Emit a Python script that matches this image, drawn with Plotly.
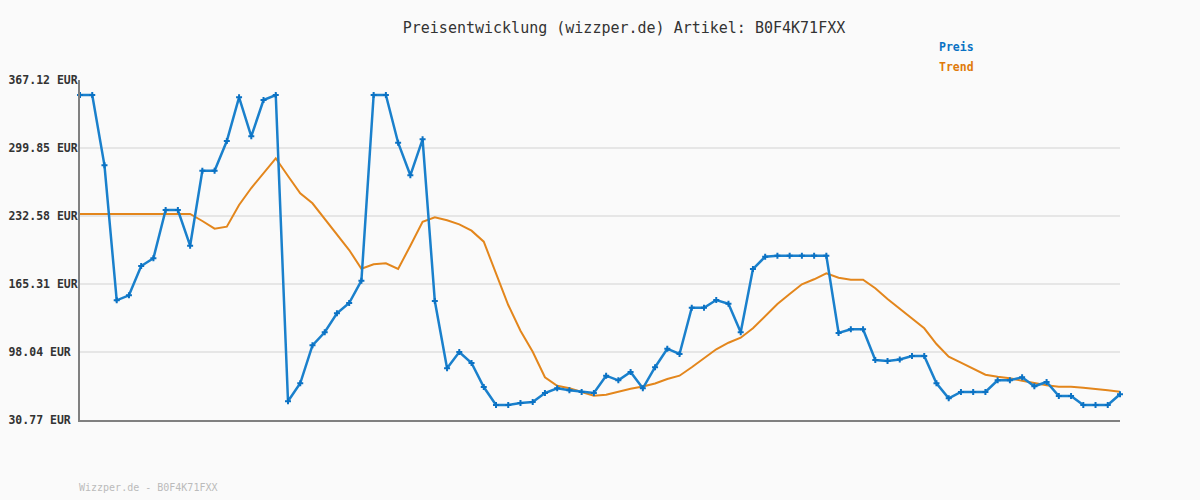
import plotly.graph_objects as go

# Price series (EUR)
preis = [352.28, 352.28, 282.73, 149.18, 154.13, 183.12, 190.73, 238.51, 238.51, 203.20,
         277.39, 277.39, 306.77, 350.01, 311.42, 347.33, 352.28, 49.27, 67.08, 104.67,
         117.53, 136.32, 146.51, 168.57, 352.28, 352.28, 305.09, 272.84, 308.46, 148.49,
         81.91, 98.04, 87.16, 63.42, 45.61, 45.61, 47.59, 48.58, 57.48, 62.13,
         60.15, 58.47, 57.48, 74.59, 70.04, 78.25, 62.13, 83.00, 101.30, 96.06,
         141.86, 141.86, 149.48, 145.82, 117.53, 180.15, 192.32, 193.31, 193.31, 193.31,
         193.31, 193.31, 116.84, 120.50, 120.50, 90.13, 89.14, 90.62, 94.08, 94.08,
         67.08, 52.24, 58.47, 58.47, 58.47, 70.04, 70.04, 73.01, 64.11, 68.36,
         54.51, 54.51, 45.61, 45.61, 45.61, 56.19]

trend = [234.56, 234.56, 234.56, 234.56, 234.56, 234.56, 234.56, 234.56, 234.56, 234.56,
         227.63, 220.02, 221.99, 243.46, 260.28, 275.12, 289.66, 272.15, 255.04, 245.14,
         229.61, 213.78, 198.94, 180.45, 184.80, 185.79, 180.15, 203.20, 226.94, 231.29,
         228.33, 224.37, 218.04, 207.16, 175.89, 144.53, 119.11, 98.34, 73.01, 64.70,
         62.13, 58.77, 54.81, 55.80, 58.77, 61.73, 63.91, 66.88, 71.33, 74.59,
         82.90, 91.81, 100.71, 107.24, 112.19, 121.49, 133.65, 145.52, 155.42, 165.01,
         169.96, 175.89, 171.54, 169.56, 169.56, 161.06, 150.47, 140.78, 131.38, 121.49,
         105.95, 93.39, 87.45, 81.52, 75.58, 73.61, 72.02, 69.65, 67.37, 65.10,
         63.71, 63.71, 62.72, 61.14, 60.15, 58.77]

y_ticks = [30.77, 98.04, 165.31, 232.58, 299.85, 367.12]
y_tick_labels = ["30.77 EUR", "98.04 EUR", "165.31 EUR", "232.58 EUR", "299.85 EUR", "367.12 EUR"]

title_text = "Preisentwicklung (wizzper.de) Artikel: B0F4K71FXX"
footer_text = "Wizzper.de - B0F4K71FXX"
series_names = ["Preis", "Trend"]

BLUE = "#1a80cc"
ORANGE = "#e3861c"
MONO = "DejaVu Sans Mono"

x = list(range(len(preis)))
maxlen = max(len(t) for t in y_tick_labels)
padded = [t + "\u00a0" * (maxlen - len(t)) for t in y_tick_labels]

fig = go.Figure()
fig.add_trace(go.Scatter(
    x=x, y=trend, mode="lines", name=series_names[1],
    line=dict(color=ORANGE, width=2), cliponaxis=False,
))
fig.add_trace(go.Scatter(
    x=x, y=preis, mode="lines+markers", name=series_names[0],
    line=dict(color=BLUE, width=2.5),
    marker=dict(symbol="cross", size=5, color="#0b72c4"),
    cliponaxis=False,
))

fig.update_layout(
    width=1200, height=500,
    margin=dict(l=80, r=80, t=80, b=80, autoexpand=False),
    paper_bgcolor="#fafafa", plot_bgcolor="#fafafa",
    showlegend=False,
    title=dict(text=title_text, x=0.52, xref="container", xanchor="center",
               y=1 - 28 / 500, yref="container", yanchor="middle",
               font=dict(family=MONO, size=15, color="#333333")),
    xaxis=dict(range=[0, len(preis) - 1], showgrid=False, zeroline=False,
               showticklabels=False, ticks="", automargin=False,
               showline=True, linecolor="#808080", linewidth=2),
    yaxis=dict(range=[y_ticks[0], y_ticks[-1]], tickmode="array",
               tickvals=y_ticks, ticktext=padded, ticklabelstandoff=-2,
               automargin=False,
               showgrid=True, gridcolor="#e6e6e6", gridwidth=2, zeroline=False,
               showline=True, linecolor="#808080", linewidth=2, ticks="",
               tickfont=dict(family=MONO, size=11.5, color="#333333", weight="bold")),
    annotations=[
        dict(text=series_names[0], xref="paper", yref="paper", x=(937 - 80) / 1040,
             y=(420 - 47) / 340, xanchor="left", yanchor="middle", showarrow=False,
             font=dict(family=MONO, size=11.5, color="#0a72c4", weight="bold")),
        dict(text=series_names[1], xref="paper", yref="paper", x=(937 - 80) / 1040,
             y=(420 - 67) / 340, xanchor="left", yanchor="middle", showarrow=False,
             font=dict(family=MONO, size=11.5, color="#e07a0a", weight="bold")),
        dict(text=footer_text, xref="paper", yref="paper", x=-3 / 1040,
             y=(420 - 487) / 340, xanchor="left", yanchor="middle", showarrow=False,
             font=dict(family=MONO, size=10, color="#bbbbbb")),
    ],
)

fig.write_html(
    "out.html",
    config={"displayModeBar": False},
    post_script="document.body.style.margin='0';document.body.style.background='#fafafa';",
)
